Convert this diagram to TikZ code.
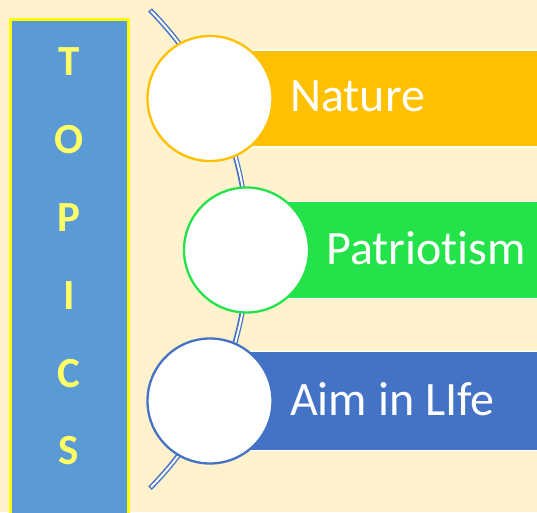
\documentclass[tikz,border=0pt]{standalone}
\usepackage{fontspec}
\setmainfont[Ligatures=NoCommon]{Carlito}
\definecolor{bgcream}{HTML}{FFF2CC}
\definecolor{topicblue}{HTML}{5B9BD5}
\definecolor{letteryellow}{HTML}{FFFF66}
\definecolor{boxyellow}{HTML}{FFFF00}
\definecolor{natorange}{HTML}{FFC000}
\definecolor{patgreen}{HTML}{24E24A}
\definecolor{aimblue}{HTML}{4472C4}
\begin{document}
\begin{tikzpicture}[x=1pt,y=1pt,
  letter/.style={text=letteryellow,font=\fontsize{43}{43}\selectfont\bfseries,inner sep=0pt},
  bar/.style={draw=white,line width=1.5pt,anchor=west,minimum width=330,minimum height=97,inner sep=0pt},
  disc/.style={circle,fill=white,line width=2.3pt,minimum size=125,inner sep=0pt},
  word/.style={text=white,font=\fontsize{48}{48}\selectfont,inner sep=0pt,anchor=base west}]
\useasboundingbox (0,0) rectangle (537,512);
\clip (0,0) rectangle (537,512);
\fill[bgcream] (0,0) rectangle (537,512);
% topics column
\draw[boxyellow,line width=3pt,fill=topicblue] (10,-5) rectangle (128,492);
\foreach \l [count=\i from 0] in {T,O,P,I,C,S}
  \node[letter] (let\i) at (69,{512-62-77.8*\i}) {\l};
% arc connector
\coordinate (arctop) at (150,502);
\draw[aimblue,line width=5pt] (arctop) arc[start angle=44.6,end angle=-44.6,radius=340.5];
\draw[white,line width=2pt,shorten >=1.4pt,shorten <=1.4pt] (arctop) arc[start angle=44.6,end angle=-44.6,radius=340.5];
% bars
\node[bar,fill=natorange] (natbar) at (210,413.5) {};
\node[bar,fill=patgreen] (patbar) at (246.5,262) {};
\node[bar,fill=aimblue,minimum height=99] (aimbar) at (210,111) {};
% circles
\node[disc,draw=natorange] (natc) at (210,413.5) {};
\node[disc,draw=patgreen] (patc) at (246.5,262) {};
\node[disc,draw=aimblue] (aimc) at (210,111) {};
% labels
\node[word] (natw) at (290,400) {Nature};
\node[word] (patw) at (326,247.5) {Patriot\kern0pt ism};
\node[word] (aimw) at (290,96.5) {Aim in LIfe};
\end{tikzpicture}
\end{document}
